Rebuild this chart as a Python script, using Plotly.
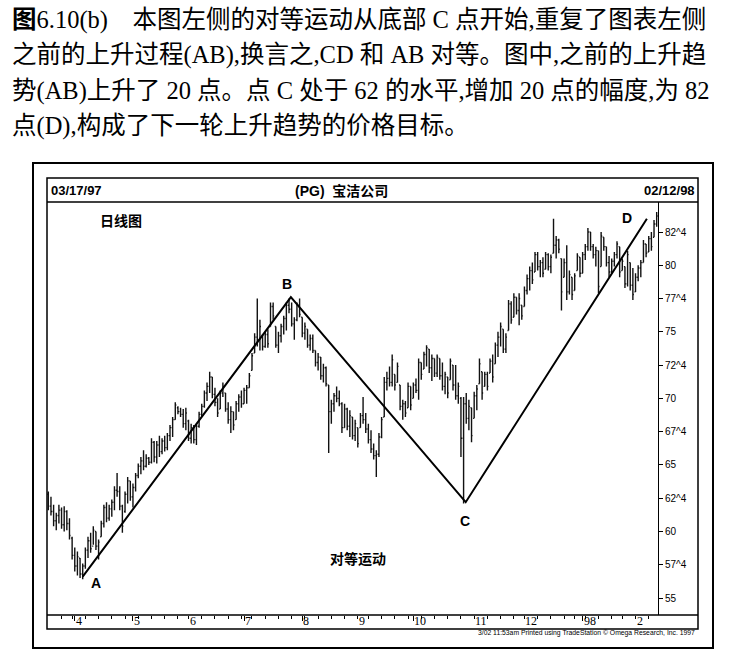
import pandas as pd
import plotly.graph_objects as go

# daily bars for PG, 03/17/97 .. 02/12/98
holidays = ["1997-03-28", "1997-05-26", "1997-07-04", "1997-09-01",
            "1997-11-27", "1997-12-25", "1998-01-01", "1998-01-19"]

high = [63.0, 62.6, 62.0, 61.4, 62.0, 61.8, 61.9, 61.6, 61.0, 59.6,
        58.8, 58.5, 58.0, 57.6, 58.8, 59.6, 59.9, 60.4, 60.0, 59.4,
        60.8, 62.0, 62.2, 62.0, 62.4, 63.4, 64.4, 63.4, 62.0, 63.0,
        64.1, 63.8, 63.6, 64.4, 65.1, 65.6, 66.1, 65.8, 65.6, 67.0,
        66.8, 66.8, 67.2, 67.0, 67.2, 67.4, 68.0, 68.6, 69.7, 69.4,
        69.3, 69.2, 69.3, 68.4, 68.1, 68.0, 68.1, 69.0, 69.6, 70.6,
        71.2, 72.0, 71.6, 70.8, 70.0, 70.6, 71.2, 70.4, 69.7, 69.4,
        69.0, 69.8, 70.3, 70.6, 70.8, 71.0, 71.9, 73.4, 74.9, 77.5,
        75.9, 74.8, 75.0, 75.2, 77.2, 77.2, 75.4, 75.0, 75.6, 76.2,
        77.2, 77.5, 77.2, 76.1, 77.2, 77.5, 76.1, 75.7, 75.2, 74.8,
        74.8, 73.6, 73.4, 73.1, 72.6, 72.4, 71.0, 69.9, 70.4, 70.9,
        70.6, 69.7, 69.6, 69.3, 69.1, 68.6, 68.4, 67.8, 68.9, 70.1,
        68.9, 68.1, 67.6, 66.6, 66.1, 67.4, 68.6, 71.6, 72.0, 72.4,
        73.3, 71.8, 72.7, 71.0, 69.9, 69.8, 71.2, 70.9, 71.2, 71.5,
        73.0, 72.7, 73.5, 74.0, 73.7, 73.3, 73.0, 73.3, 73.0, 72.7,
        72.0, 71.6, 73.0, 72.5, 72.5, 71.2, 70.1, 70.1, 70.4, 69.9,
        69.3, 70.5, 71.0, 73.0, 72.0, 72.0, 72.0, 73.0, 73.3, 74.2,
        75.0, 75.7, 75.2, 74.9, 77.4, 77.3, 77.9, 77.6, 77.9, 77.0,
        78.4, 79.3, 79.9, 80.2, 81.0, 81.0, 80.4, 80.6, 81.0, 80.9,
        80.8, 83.5, 82.2, 82.0, 80.5, 80.5, 81.5, 79.6, 79.1, 79.4,
        80.9, 80.6, 81.0, 81.6, 82.8, 82.5, 81.6, 81.4, 81.1, 82.5,
        82.1, 81.4, 80.7, 80.5, 81.0, 81.8, 81.4, 80.5, 79.9, 81.1,
        80.2, 79.8, 79.4, 80.0, 80.4, 81.9, 81.6, 82.2, 82.5, 83.4,
        84.0]

low = [61.6, 61.2, 60.4, 60.1, 60.6, 60.2, 60.0, 60.1, 59.4, 57.9,
       57.0, 56.7, 56.5, 56.4, 57.2, 58.0, 58.4, 59.0, 58.6, 57.9,
       59.6, 60.3, 60.7, 60.8, 61.1, 61.6, 62.6, 61.6, 59.9, 61.4,
       62.1, 62.3, 61.8, 63.0, 64.0, 64.3, 64.6, 64.8, 65.0, 65.1,
       65.2, 65.1, 65.6, 65.8, 66.0, 66.1, 66.8, 67.1, 68.4, 68.8,
       68.6, 67.8, 67.6, 66.8, 66.6, 66.6, 66.5, 67.8, 68.6, 69.3,
       69.8, 70.4, 70.0, 69.4, 68.6, 69.2, 70.1, 69.0, 68.1, 67.4,
       67.6, 68.4, 69.0, 69.3, 69.6, 69.6, 70.8, 72.1, 73.4, 73.9,
       73.6, 73.6, 73.8, 73.8, 75.4, 75.9, 73.8, 73.4, 74.2, 74.8,
       75.1, 76.4, 75.4, 74.4, 75.8, 76.1, 74.6, 74.4, 73.8, 73.6,
       73.4, 72.4, 72.1, 71.4, 71.2, 70.9, 65.9, 68.1, 69.0, 69.7,
       69.4, 67.4, 67.8, 67.6, 67.1, 66.9, 66.8, 66.3, 67.8, 68.1,
       67.4, 66.6, 65.9, 65.4, 64.1, 65.6, 67.0, 68.6, 70.6, 70.9,
       70.9, 70.6, 71.2, 69.1, 68.4, 68.6, 69.3, 69.1, 70.0, 70.4,
       69.9, 71.4, 72.2, 72.4, 71.9, 71.3, 71.6, 71.6, 71.4, 70.6,
       70.3, 70.0, 71.4, 70.6, 69.9, 69.6, 65.6, 62.1, 68.1, 67.6,
       66.7, 68.5, 69.1, 71.1, 69.9, 70.9, 70.6, 71.9, 71.2, 72.6,
       73.1, 73.9, 73.4, 73.4, 75.1, 75.6, 76.1, 76.3, 75.5, 75.9,
       76.9, 77.8, 78.1, 78.6, 79.5, 79.6, 79.1, 79.1, 79.7, 79.6,
       79.4, 80.9, 80.5, 80.9, 76.6, 79.1, 77.4, 77.8, 77.4, 78.1,
       79.6, 79.1, 79.4, 80.4, 81.1, 81.1, 80.5, 79.9, 77.9, 79.9,
       81.1, 79.9, 79.1, 79.4, 79.9, 80.5, 79.1, 79.6, 78.3, 78.4,
       78.1, 77.4, 78.0, 78.8, 79.1, 80.2, 80.6, 81.0, 81.1, 82.1,
       82.9]

open_ = [62.8, 61.9, 61.5, 60.8, 61.2, 61.6, 60.5, 61.5, 60.6, 59.5,
         58.2, 57.4, 58.0, 56.8, 57.4, 58.6, 59.3, 58.9, 60.0, 58.9,
         59.6, 60.6, 61.8, 61.0, 61.7, 62.2, 63.1, 63.0, 61.9, 61.5,
         62.8, 63.8, 62.6, 63.3, 64.2, 64.9, 65.3, 64.9, 65.5, 65.2,
         66.7, 65.6, 66.5, 66.0, 66.8, 66.3, 67.2, 67.8, 68.4, 69.3,
         69.0, 68.8, 68.1, 68.3, 67.0, 67.8, 66.9, 67.9, 68.8, 69.4,
         70.4, 70.9, 71.6, 70.3, 69.7, 69.2, 70.4, 70.4, 69.2, 68.4,
         69.0, 68.4, 69.6, 70.1, 69.6, 70.6, 70.8, 72.1, 73.4, 74.6,
         74.4, 74.6, 73.9, 74.8, 75.4, 76.9, 75.4, 74.0, 74.7, 75.4,
         76.0, 77.0, 76.7, 75.6, 75.9, 77.0, 76.1, 74.9, 75.2, 74.0,
         74.5, 73.6, 72.7, 73.1, 71.7, 72.3, 71.0, 69.0, 69.6, 70.2,
         70.0, 69.6, 67.8, 69.2, 67.9, 68.6, 67.2, 67.8, 67.8, 68.7,
         68.4, 67.7, 66.9, 66.2, 65.7, 65.8, 67.1, 68.6, 71.2, 71.5,
         71.2, 71.8, 71.2, 71.0, 69.4, 69.6, 69.3, 70.9, 70.0, 71.0,
         70.6, 72.7, 72.2, 73.3, 73.7, 72.3, 73.0, 71.9, 73.0, 71.7,
         70.9, 71.6, 71.4, 72.5, 71.0, 70.2, 70.0, 67.0, 69.6, 68.5,
         69.3, 68.5, 70.2, 71.1, 72.0, 70.9, 71.8, 71.9, 72.8, 72.6,
         74.0, 74.6, 75.2, 73.7, 75.1, 77.1, 76.1, 77.6, 76.6, 77.0,
         76.9, 78.1, 79.0, 79.6, 79.5, 80.8, 79.9, 80.2, 79.7, 80.8,
         79.9, 80.9, 81.5, 81.9, 80.5, 79.1, 80.2, 78.0, 79.1, 78.1,
         79.6, 80.6, 79.4, 80.8, 81.4, 82.5, 81.4, 80.8, 81.1, 79.9,
         82.1, 81.4, 80.2, 79.5, 80.3, 80.8, 81.4, 79.6, 79.9, 78.6,
         80.2, 78.5, 78.0, 79.1, 79.8, 80.2, 81.6, 81.0, 82.0, 82.1,
         83.1]

close = [61.9, 61.5, 60.8, 61.2, 61.6, 60.5, 61.5, 60.6, 59.7, 58.2,
         57.4, 58.1, 56.8, 57.4, 58.6, 59.3, 58.7, 60.1, 58.9, 59.2,
         60.6, 61.8, 61.0, 61.7, 62.2, 63.1, 63.0, 61.9, 60.4, 62.8,
         63.8, 62.6, 63.3, 64.2, 64.9, 65.3, 64.9, 65.5, 65.2, 66.7,
         65.6, 66.5, 66.0, 66.8, 66.3, 67.2, 67.8, 68.4, 69.5, 69.0,
         68.8, 68.1, 68.9, 67.0, 67.8, 66.9, 67.9, 68.8, 69.4, 70.4,
         70.9, 71.6, 70.3, 69.7, 68.9, 70.4, 70.9, 69.2, 68.4, 69.0,
         68.0, 69.6, 70.1, 69.6, 70.6, 70.8, 71.7, 73.2, 74.6, 74.4,
         75.4, 73.9, 74.8, 74.1, 76.9, 76.2, 74.0, 74.7, 75.4, 76.0,
         77.0, 76.7, 75.6, 75.9, 77.0, 76.3, 74.9, 75.4, 74.0, 74.5,
         73.6, 72.7, 73.1, 71.7, 72.3, 71.1, 69.0, 69.6, 70.2, 70.0,
         69.6, 67.8, 69.2, 67.9, 68.7, 67.2, 68.1, 66.6, 68.7, 68.4,
         67.7, 66.9, 66.2, 65.7, 65.8, 67.1, 68.4, 71.2, 71.5, 71.2,
         72.9, 71.0, 72.4, 69.4, 69.6, 68.9, 70.9, 69.5, 71.0, 70.6,
         72.7, 71.8, 73.3, 73.8, 72.3, 73.0, 71.9, 73.1, 71.7, 70.9,
         71.8, 70.4, 72.8, 71.0, 70.2, 70.9, 67.0, 69.6, 68.5, 69.4,
         67.2, 70.2, 70.7, 72.6, 70.4, 71.8, 70.9, 72.8, 71.6, 74.0,
         74.6, 75.4, 73.7, 74.6, 77.1, 75.9, 77.6, 76.6, 77.5, 76.2,
         78.1, 79.0, 79.6, 78.9, 80.8, 79.9, 80.2, 79.4, 80.8, 79.9,
         80.6, 81.5, 81.9, 81.2, 78.0, 80.2, 78.0, 79.3, 77.8, 79.2,
         80.7, 79.4, 80.8, 81.4, 82.5, 81.4, 80.8, 81.1, 78.4, 82.2,
         81.4, 80.2, 79.5, 80.3, 80.8, 81.6, 79.5, 80.3, 78.6, 80.8,
         78.5, 77.8, 79.1, 79.8, 80.2, 81.6, 80.9, 82.0, 81.4, 83.1,
         83.7]

# A-B-C-D swing line (bar position, price)
pivot_bar = [13, 91.7, 157.8, 226.3]
pivot_price = [56.6, 77.6, 62.2, 83.5]

price_ticks = [55, 57.5, 60, 62.5, 65, 67.5, 70, 72.5, 75, 77.5, 80, 82.5]
price_labels = ["55", "57^4", "60", "62^4", "65", "67^4", "70", "72^4",
                "75", "77^4", "80", "82^4"]
month_labels = ["4", "5", "6", "7", "8", "9", "10", "11", "12", "98", "2"]

caption = [
    "<b>图</b>6.10(b)    本图左侧的对等运动从底部 C 点开始,重复了图表左侧",
    "之前的上升过程(AB),换言之,CD 和 AB 对等。图中,之前的上升趋",
    "势(AB)上升了 20 点。点 C 处于 62 的水平,增加 20 点的幅度,为 82",
    "点(D),构成了下一轮上升趋势的价格目标。",
]

dates = pd.bdate_range("1997-03-17", "1998-02-12")
dates = dates[~dates.isin(pd.to_datetime(holidays))]
bar_x = list(range(len(high)))
month_start = [i for i in range(1, len(dates)) if dates[i].month != dates[i - 1].month]
week_start = [i for i in range(1, len(dates)) if dates[i].weekday() < dates[i - 1].weekday()]

W, H = 737, 659
L, R, T, B = 47, 658, 202, 615


def px(x):
    return (x - L) / (R - L)


def py(y):
    return (B - y) / (B - T)


fig = go.Figure()
fig.add_trace(go.Ohlc(
    x=bar_x, open=open_, high=high, low=low, close=close,
    increasing_line_color="#111111", decreasing_line_color="#111111",
    line_width=1.4, tickwidth=0.4,
    text=[d.strftime("%m/%d/%y") for d in dates], showlegend=False,
))
fig.add_trace(go.Scatter(
    x=pivot_bar, y=pivot_price, mode="lines",
    line=dict(color="black", width=2), showlegend=False, hoverinfo="skip",
))

fig.update_layout(
    width=W, height=H, autosize=False,
    margin=dict(l=L, r=W - R, t=T, b=H - B),
    paper_bgcolor="white", plot_bgcolor="white",
    xaxis=dict(
        range=[-0.5, len(high) - 0.5], rangeslider_visible=False,
        tickmode="array", tickvals=month_start, ticktext=[""] * len(month_start),
        ticks="outside", ticklen=5, tickcolor="black", tickwidth=1,
        minor=dict(tickmode="array", tickvals=week_start, ticks="outside",
                   ticklen=3, tickcolor="black"),
        showgrid=False, zeroline=False, showline=False,
    ),
    yaxis=dict(
        side="right", range=[53.723, 84.754],
        tickmode="array", tickvals=price_ticks, ticktext=price_labels,
        ticks="outside", ticklen=4, tickcolor="black",
        tickfont=dict(family="Liberation Sans Narrow, Liberation Sans", size=10, color="black"),
        showline=True, linecolor="black", linewidth=1,
        showgrid=False, zeroline=False,
    ),
)

frame = dict(type="line", xref="paper", yref="paper", line=dict(color="black", width=1.5))
fig.add_shape(type="rect", xref="paper", yref="paper",
              x0=px(33), x1=px(713), y0=py(648), y1=py(163),
              line=dict(color="black", width=2))
fig.add_shape(type="rect", xref="paper", yref="paper",
              x0=px(47), x1=px(698), y0=py(629), y1=py(178),
              line=dict(color="black", width=1.5))
fig.add_shape(**frame, x0=px(47), x1=px(698), y0=py(202), y1=py(202))
fig.add_shape(**frame, x0=px(47), x1=px(698), y0=py(615), y1=py(615))

sans_b = "Liberation Sans, Noto Sans CJK SC"


def note(text, x, y, size, anchor="center", family=sans_b):
    fig.add_annotation(text=text, xref="paper", yref="paper", x=px(x), y=py(y),
                       xanchor=anchor, yanchor="middle", showarrow=False,
                       font=dict(family=family, size=size, color="black"))


# month labels sit just right of each month tick, inside the axis strip
for i, lab in zip(month_start, month_labels):
    fig.add_annotation(text=lab, x=i, xref="x", y=py(621), yref="paper",
                       xanchor="left", yanchor="middle", xshift=-1, showarrow=False,
                       font=dict(family="Liberation Serif", size=12, color="black"))

note("<b>03/17/97</b>", 49, 191, 13, "left")
note("<b>(PG)  宝洁公司</b>", 341, 191, 14)
note("<b>02/12/98</b>", 697, 191, 13, "right")
note("<b>日线图</b>", 121, 221, 14)
note("<b>对等运动</b>", 358, 559, 14)
note("<b>A</b>", 96, 583, 14)
note("<b>B</b>", 287, 284, 14)
note("<b>C</b>", 465, 521, 14)
note("<b>D</b>", 627, 218, 14)
note("3/02 11:53am Printed using TradeStation © Omega Research, Inc. 1997",
     697, 633, 6.8, "right", "Liberation Sans Narrow, Liberation Sans")

for k, line in enumerate(caption):
    note(line, 10, 20 + 35.5 * k, 24.5, "left", "Liberation Serif, Noto Sans CJK SC")

fig.write_html("out.html", config={"displayModeBar": False},
               post_script="document.body.style.margin='0';")
